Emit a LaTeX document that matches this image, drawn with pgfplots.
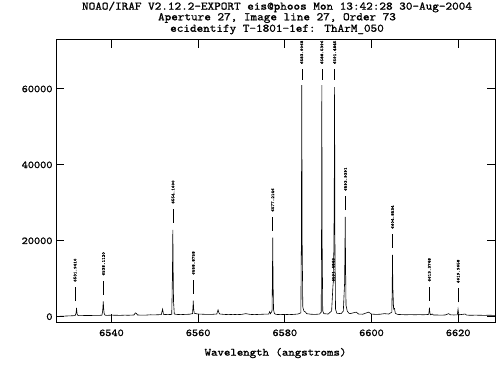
\documentclass[border=0pt]{standalone}
\usepackage{pgfplots}
\pgfplotsset{compat=1.18}
\usepackage{fontspec}
\setmainfont{Latin Modern Mono}[AutoFakeBold=1.3, FakeStretch=1.12]
\newcommand{\lblfont}{\fontsize{4.4}{5}\selectfont\bfseries}
\newcommand{\lbl}[5]{%
  \draw[line width=0.4pt] (axis cs:#1,#2) -- (axis cs:#1,#3);
  \node[rotate=90,anchor=west,inner sep=0pt,font=\lblfont] at (axis cs:#1,#4) {#5};}
\begin{document}
\begin{tikzpicture}
\useasboundingbox (0,0) rectangle (497bp,365bp);
\node[font=\fontsize{11.5}{11}\selectfont\bfseries] at (277bp,358bp) {NOAO/IRAF V2.12.2-EXPORT eis@phoos Mon 13:42:28 30-Aug-2004};
\node[font=\fontsize{11.5}{11}\selectfont\bfseries] at (277bp,347bp) {Aperture 27, Image line 27, Order 73};
\node[font=\fontsize{11.5}{11}\selectfont\bfseries] at (277bp,335.5bp) {ecidentify T-1801-1ef: ThArM\_050};
\begin{axis}[
  at={(56bp,43bp)}, anchor=south west,
  width=439bp, height=282bp, scale only axis,
  xmin=6527.2, xmax=6628.5, ymin=-1400, ymax=72900,
  xtick={6540,6560,6580,6600,6620},
  ytick={0,20000,40000,60000},
  tick align=inside, major tick length=8bp,
  xtick pos=both, ytick pos=both,
  axis line style={line width=1bp},
  every tick/.style={line width=1bp, black},
  scaled y ticks=false,
  /pgf/number format/assume math mode=true,
  yticklabel={\pgfmathprintnumber[fixed,set thousands separator={}]{\tick}},
  xticklabel={\pgfmathprintnumber[fixed,set thousands separator={}]{\tick}},
  tick label style={font=\fontsize{10.5}{11}\selectfont\bfseries},
  xticklabel style={yshift=-4bp},
  xlabel={Wavelength (angstroms)},
  xlabel style={font=\fontsize{11}{11}\selectfont\bfseries, yshift=-5bp},
  clip mode=individual,
]
\addplot[black, line width=0.6pt] coordinates {
(6527.3,0) (6528,100) (6529,150) (6530,200) (6531,250) (6531.6,280) (6531.8,800) (6531.87,1400) (6531.94,2300) (6532.01,1300) (6532.1,600) (6532.3,300)
(6533,280) (6534,320) (6535,300) (6536,350) (6537,330) (6537.8,400) (6537.97,1500) (6538.04,2800) (6538.11,4000) (6538.18,2500) (6538.3,900) (6538.5,400)
(6539,350) (6540,400) (6541,380) (6542,350) (6543,400) (6544,380) (6545.2,450) (6545.5,1000) (6545.8,800) (6546,450) (6547,400) (6548,420) (6549,500) (6550,480)
(6551.5,550) (6551.8,2000) (6552.0,600) (6553,550) (6553.9,600) (6554.0,6000) (6554.09,14000) (6554.16,22900) (6554.23,13000) (6554.32,4000) (6554.5,700)
(6555,600) (6556,550) (6557,600) (6558,650) (6558.7,800) (6558.8,2500) (6558.88,4200) (6558.95,2200) (6559.1,900) (6559.5,800) (6560,700) (6561,650) (6562,600) (6563,600)
(6564.3,700) (6564.6,1800) (6564.8,1000) (6565,700) (6566,600) (6567,550) (6568,600) (6569,550) (6570,600) (6571,800) (6572,600) (6573,550) (6574,600) (6575,650)
(6576.3,700) (6576.5,1300) (6576.7,800) (6577.05,1500) (6577.13,9000) (6577.21,20800) (6577.29,9000) (6577.4,1800) (6577.6,800) (6578,600) (6579,550) (6580,600)
(6581,550) (6582,600) (6583,700) (6583.7,1000) (6583.82,20000) (6583.91,61000) (6584.0,20000) (6584.15,2500) (6584.4,1500) (6584.8,1200) (6585,800) (6586,650)
(6587,600) (6588,700) (6588.4,1200) (6588.47,20000) (6588.54,61000) (6588.61,20000) (6588.75,1500) (6589,800) (6590,700) (6590.8,1500) (6591.1,8000) (6591.25,10000)
(6591.4,30000) (6591.48,60500) (6591.56,20000) (6591.7,2000) (6592,900) (6593,800) (6593.5,1500) (6593.8,9000) (6593.87,17000) (6593.94,26300) (6594.01,15000)
(6594.12,3000) (6594.4,1500) (6594.8,900) (6595,800) (6596.5,1200) (6597,700) (6598,650) (6599.3,1200) (6599.6,1000) (6600,700) (6601,600) (6602,650) (6603,800)
(6604,700) (6604.7,1200) (6604.78,8000) (6604.85,16300) (6604.92,8000) (6605.1,2000) (6605.3,2200) (6605.5,900) (6606,600) (6607,550) (6608,500) (6609,550)
(6610,500) (6611,550) (6612,500) (6613.2,600) (6613.3,1500) (6613.37,2400) (6613.45,1200) (6613.6,500) (6614,700) (6614.3,450) (6615,450) (6616,400) (6617,450)
(6617.8,800) (6618.2,500) (6619,450) (6619.8,500) (6619.9,1400) (6619.97,2000) (6620.05,1200) (6620.2,500) (6621.6,700) (6622,400) (6623,380) (6624,400)
(6625,380) (6626,350) (6627,380) (6628.5,350)
};
\lbl{6531.6}{4100}{7800}{9100}{6531.9410}
\lbl{6538.15}{5800}{9500}{10800}{6538.1120}
\lbl{6554.2}{24700}{28400}{29700}{6554.1600}
\lbl{6558.9}{6000}{9700}{11000}{6558.8758}
\lbl{6577.2}{22600}{26300}{27600}{6577.2146}
\lbl{6583.9}{62400}{65300}{66500}{6583.9068}
\lbl{6588.55}{62400}{65300}{66500}{6588.5396}
\lbl{6591.5}{62400}{65300}{66500}{6591.4845}
\lbl{6594.0}{28100}{31800}{33100}{6593.9391}
\lbl{6604.85}{18100}{21800}{23100}{6604.8534}
\node[rotate=90,anchor=west,inner sep=0pt,font=\lblfont] at (axis cs:6591.2,9200) {6591.4843};
\lbl{6613.35}{4200}{7900}{9200}{6613.3748}
\lbl{6620.0}{3800}{7500}{8800}{6619.9658}
\end{axis}
\end{tikzpicture}
\end{document}
